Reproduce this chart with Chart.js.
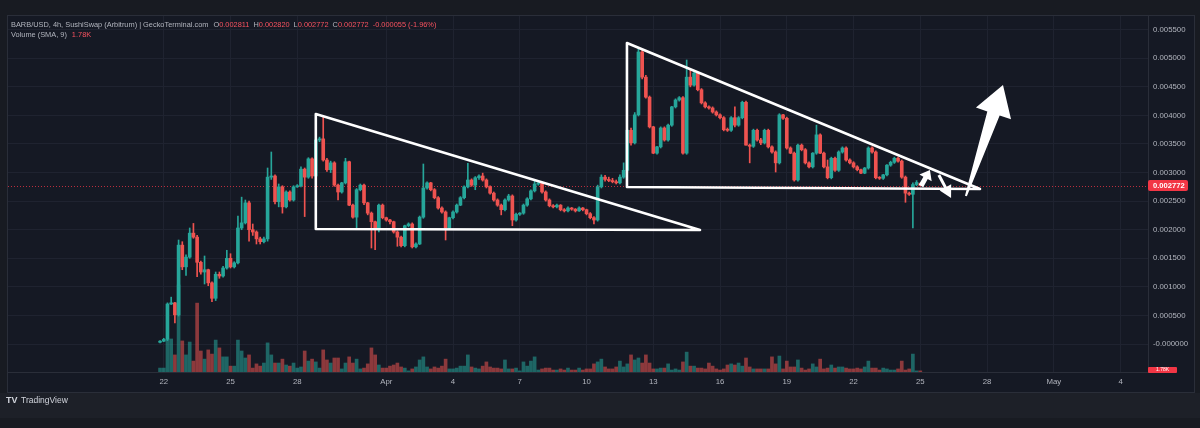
<!DOCTYPE html>
<html>
<head>
<meta charset="utf-8">
<script src="https://cdn.jsdelivr.net/npm/chart.js@4.4.1/dist/chart.umd.min.js"></script>
<style>
html,body{margin:0;padding:0;background:#181b22;}
canvas{display:block;}
</style>
</head>
<body>
<canvas id="c" width="1200" height="428"></canvas>
<script>
// BARB/USD 4h candles, oldest first (Mar 21 20:00 -> Apr 25 00:00)
const opens = [
0.00003,0.00005,0.00008,0.0007,0.00072,0.00051,0.00173,0.00135,0.00152,0.00194,
0.00187,0.00143,0.00126,0.0013,0.00107,0.0008,0.00122,0.00119,0.00133,0.0015,
0.00135,0.00142,0.00203,0.00212,0.00247,0.002,0.00196,0.00184,0.00179,0.00184,
0.00292,0.00294,0.00249,0.00275,0.0024,0.00266,0.00252,0.00275,0.00277,0.00306,
0.00292,0.00324,0.00294,0.00357,0.00359,0.00322,0.00305,0.00317,0.00278,0.00266,
0.00282,0.00319,0.00243,0.00222,0.0027,0.00278,0.00247,0.00229,0.00214,0.002,
0.00243,0.00221,0.00217,0.00214,0.00196,0.00187,0.00172,0.00207,0.0021,0.0017,
0.00175,0.00222,0.00273,0.00282,0.0027,0.00256,0.00238,0.00231,0.00203,0.00221,
0.00231,0.00243,0.00256,0.00275,0.00287,0.00278,0.00291,0.00294,0.00287,0.00275,
0.00264,0.00252,0.00243,0.00235,0.00252,0.00259,0.00217,0.00227,0.00229,0.00243,
0.00254,0.00268,0.0028,0.00282,0.00266,0.00252,0.00242,0.0024,0.00243,0.00235,
0.00233,0.00238,0.00236,0.00233,0.00238,0.00235,0.00228,0.00221,0.00217,0.00275,
0.00292,0.00288,0.00286,0.00284,0.00282,0.00292,0.00304,0.00374,0.00352,0.00401,
0.00511,0.00467,0.00432,0.0038,0.00334,0.00345,0.00378,0.00357,0.00383,0.00415,
0.00427,0.00431,0.00334,0.00467,0.00453,0.00474,0.00445,0.00422,0.00415,0.00413,
0.00406,0.00401,0.00396,0.00375,0.00374,0.00396,0.00383,0.00396,0.00423,0.00348,
0.00346,0.00374,0.00357,0.00352,0.00374,0.00345,0.00336,0.00317,0.00401,0.00395,
0.00343,0.00334,0.00287,0.00348,0.0034,0.00317,0.0031,0.00334,0.00366,0.00334,
0.0031,0.00291,0.00325,0.00304,0.00336,0.00343,0.00322,0.00317,0.0031,0.00305,
0.00299,0.00308,0.00343,0.00336,0.00291,0.0029,0.00296,0.00313,0.00318,0.00325,
0.0032,0.00292,0.00264,0.00262,0.00279,0.002811];
const highs = [
0.00006,0.0001,0.00072,0.00082,0.00073,0.00182,0.00179,0.00156,0.00203,0.00211,
0.0019,0.00145,0.00154,0.00131,0.00109,0.00126,0.00126,0.00136,0.00164,0.00158,
0.00144,0.00224,0.00257,0.00252,0.0025,0.0021,0.00198,0.00187,0.00187,0.00308,
0.00336,0.00296,0.0028,0.00277,0.00268,0.00268,0.00277,0.00279,0.0031,0.00308,
0.00326,0.00326,0.0036,0.00362,0.00398,0.00325,0.0032,0.00319,0.0028,0.00283,
0.00325,0.0032,0.00245,0.00272,0.0028,0.0028,0.00248,0.00231,0.00215,0.00245,
0.00245,0.00222,0.00218,0.00215,0.00198,0.00189,0.00208,0.00212,0.00212,0.00177,
0.00224,0.00315,0.00284,0.00283,0.00272,0.00258,0.0024,0.00233,0.00222,0.00233,
0.00245,0.00258,0.00277,0.00316,0.00289,0.00293,0.00296,0.00299,0.00289,0.00277,
0.00266,0.00254,0.00245,0.00254,0.00262,0.00261,0.00229,0.0023,0.00245,0.00256,
0.0027,0.00287,0.00285,0.00283,0.00268,0.00254,0.00244,0.00245,0.00244,0.00237,
0.0024,0.00239,0.00237,0.0024,0.00239,0.00236,0.0023,0.00223,0.00278,0.00296,
0.00295,0.00292,0.0029,0.00287,0.00296,0.00317,0.00376,0.00378,0.00405,0.00518,
0.00515,0.0047,0.00434,0.00381,0.00346,0.0038,0.0038,0.00385,0.00416,0.00429,
0.00433,0.00433,0.00497,0.0048,0.00476,0.00476,0.00447,0.00424,0.00417,0.00415,
0.00408,0.00403,0.00398,0.00378,0.00398,0.00415,0.00398,0.00425,0.00425,0.0035,
0.00376,0.00376,0.0036,0.00376,0.00376,0.00347,0.00338,0.00403,0.00402,0.00397,
0.00345,0.00336,0.0035,0.0035,0.00342,0.00319,0.00335,0.00383,0.00368,0.00336,
0.00322,0.00327,0.00327,0.00338,0.00345,0.00345,0.00324,0.00319,0.00312,0.00306,
0.00309,0.00345,0.00345,0.00338,0.00293,0.00297,0.00314,0.0032,0.00327,0.00327,
0.00322,0.00294,0.00266,0.00282,0.00286,0.00282];
const lows = [
0.00002,0.00004,0.00006,0.00069,0.00037,0.00049,0.0013,0.0012,0.0015,0.00185,
0.00118,0.00122,0.00105,0.00102,0.00074,0.00076,0.00115,0.00117,0.00131,0.00133,
0.00133,0.0014,0.002,0.0021,0.0018,0.0019,0.00175,0.00175,0.00177,0.0018,
0.00288,0.00245,0.0024,0.00229,0.00238,0.0025,0.0025,0.00274,0.00275,0.00223,
0.0029,0.0029,0.00285,0.00354,0.0032,0.00302,0.003,0.00276,0.00252,0.00264,
0.0028,0.00242,0.0022,0.00203,0.00268,0.00244,0.00226,0.00168,0.00165,0.00196,
0.00219,0.00215,0.0021,0.00194,0.00171,0.0017,0.0017,0.00205,0.00168,0.00168,
0.00174,0.0022,0.00271,0.00268,0.00254,0.00236,0.00229,0.00182,0.00201,0.00219,
0.00229,0.00242,0.00254,0.00273,0.00276,0.0027,0.00288,0.00285,0.00273,0.00262,
0.0025,0.00241,0.00226,0.00233,0.0025,0.00207,0.00215,0.00225,0.00227,0.00241,
0.00252,0.00266,0.00278,0.00264,0.0025,0.0024,0.00238,0.00238,0.00233,0.00231,
0.00231,0.00234,0.00231,0.00232,0.00233,0.00226,0.00219,0.0021,0.00215,0.00273,
0.00285,0.00284,0.00282,0.0028,0.0028,0.0029,0.00302,0.00348,0.0035,0.00399,
0.00464,0.0043,0.00378,0.00333,0.00332,0.00343,0.00355,0.00355,0.00381,0.00413,
0.00425,0.00332,0.00332,0.0045,0.00451,0.00443,0.0042,0.00413,0.00411,0.00404,
0.00399,0.00394,0.00373,0.00372,0.00372,0.0038,0.00381,0.00394,0.00348,0.00317,
0.00344,0.00355,0.00349,0.0035,0.00343,0.00334,0.00301,0.00315,0.00393,0.00341,
0.00333,0.00285,0.00285,0.00338,0.00315,0.00308,0.00308,0.00332,0.00333,0.00308,
0.00289,0.00289,0.00302,0.00302,0.00334,0.0032,0.00315,0.00308,0.00303,0.00298,
0.00298,0.00306,0.00334,0.00289,0.00288,0.00288,0.00294,0.00311,0.00316,0.00318,
0.0029,0.00248,0.0026,0.00203,0.00277,0.002772];
const closes = [
0.00005,0.00008,0.0007,0.00072,0.00051,0.00173,0.00135,0.00152,0.00194,0.00187,
0.00143,0.00126,0.0013,0.00107,0.0008,0.00122,0.00119,0.00133,0.0015,0.00135,
0.00142,0.00203,0.00212,0.00247,0.002,0.00196,0.00184,0.00179,0.00184,0.00292,
0.00294,0.00249,0.00275,0.0024,0.00266,0.00252,0.00275,0.00277,0.00306,0.00292,
0.00324,0.00294,0.00357,0.00359,0.00322,0.00305,0.00317,0.00278,0.00266,0.00282,
0.00319,0.00243,0.00222,0.0027,0.00278,0.00247,0.00229,0.00214,0.002,0.00243,
0.00221,0.00217,0.00214,0.00196,0.00187,0.00172,0.00207,0.0021,0.0017,0.00175,
0.00222,0.00273,0.00282,0.0027,0.00256,0.00238,0.00231,0.00203,0.00221,0.00231,
0.00243,0.00256,0.00275,0.00287,0.00278,0.00291,0.00294,0.00287,0.00275,0.00264,
0.00252,0.00243,0.00235,0.00252,0.00259,0.00217,0.00227,0.00229,0.00243,0.00254,
0.00268,0.0028,0.00282,0.00266,0.00252,0.00242,0.0024,0.00243,0.00235,0.00233,
0.00238,0.00236,0.00233,0.00238,0.00235,0.00228,0.00221,0.00217,0.00275,0.00292,
0.00288,0.00286,0.00284,0.00282,0.00292,0.00304,0.00374,0.00352,0.00401,0.00511,
0.00467,0.00432,0.0038,0.00334,0.00345,0.00378,0.00357,0.00383,0.00415,0.00427,
0.00431,0.00334,0.00467,0.00453,0.00474,0.00445,0.00422,0.00415,0.00413,0.00406,
0.00401,0.00396,0.00375,0.00374,0.00396,0.00383,0.00396,0.00423,0.00348,0.00346,
0.00374,0.00357,0.00352,0.00374,0.00345,0.00336,0.00317,0.00401,0.00395,0.00343,
0.00334,0.00287,0.00348,0.0034,0.00317,0.0031,0.00334,0.00366,0.00334,0.0031,
0.00291,0.00325,0.00304,0.00336,0.00343,0.00322,0.00317,0.0031,0.00305,0.00299,
0.00308,0.00343,0.00336,0.00291,0.0029,0.00296,0.00313,0.00318,0.00325,0.0032,
0.00292,0.00264,0.00262,0.00279,0.002827,0.002772];
// volume, thousands
const volumes = [
1.4,1.4,11.4,11.8,6.1,31.1,11.1,6.1,10.7,3.9,
24.6,7.5,4.6,7.9,6.4,11.4,8.6,5.4,5.4,2.1,
2.1,11.4,7.5,5.0,6.1,1.4,2.9,2.1,3.2,10.4,
6.1,3.2,3.2,4.6,2.5,2.1,3.2,1.4,1.8,7.5,
3.9,4.6,3.6,1.4,7.9,4.3,3.2,5.0,5.0,1.1,
3.2,5.4,3.2,4.6,1.1,1.4,2.9,8.6,6.1,2.5,
1.4,1.4,2.1,2.5,3.2,1.8,1.4,0.4,1.1,1.8,
4.3,5.4,1.8,1.1,1.8,1.4,2.1,4.6,1.1,1.1,
1.4,2.1,2.1,6.1,1.8,1.4,1.1,2.1,3.6,1.8,
1.4,1.4,1.1,4.3,1.1,1.1,1.4,0.4,3.6,2.1,
3.9,5.4,0.7,1.1,1.4,1.4,0.7,0.7,1.1,0.7,
1.4,0.7,0.7,1.4,0.7,1.1,1.1,2.9,3.6,4.6,
1.8,1.1,1.1,1.8,3.9,1.8,2.9,6.1,4.3,5.0,
3.2,6.1,3.2,1.1,1.1,1.4,1.4,2.9,0.7,1.1,
0.7,3.6,7.1,2.1,2.1,1.4,1.4,1.1,3.2,2.1,
1.1,0.7,1.1,2.5,2.9,2.5,3.2,2.1,5.0,1.8,
1.1,1.1,1.1,1.1,1.1,5.4,2.9,5.7,1.1,3.9,
1.8,1.8,4.3,1.4,0.7,1.1,2.9,1.8,4.6,1.1,
1.4,2.5,1.4,1.8,1.8,1.4,1.1,1.1,1.4,1.1,
1.8,3.9,1.4,1.4,0.7,1.4,1.1,0.7,0.7,1.1,
3.9,0.7,1.1,6.4,0.4,0.4];

// candle index of each date label (6 candles per day)
const dateTickIndex = [1, 19, 37, 61, 79, 97, 115, 133, 151, 169, 187, 205, 223, 241, 259];
const dateTickLabels = ['22', '25', '28', 'Apr', '4', '7', '10', '13', '16', '19', '22', '25', '28', 'May', '4'];
const priceTicks = [0, 0.0005, 0.001, 0.0015, 0.002, 0.0025, 0.003, 0.0035, 0.004, 0.0045, 0.005, 0.0055];
const priceTickLabels = ['-0.000000', '0.000500', '0.001000', '0.001500', '0.002000', '0.002500',
    '0.003000', '0.003500', '0.004000', '0.004500', '0.005000', '0.005500'];
const lastPrice = 0.002772;

// drawn patterns, as [candle index, price]
const triangleA = [[42.0, 0.004025], [42.0, 0.0020125], [145.6, 0.001995]];
const triangleB = [[125.9, 0.0052675], [125.9, 0.0027475], [221.1, 0.0027125]];
const arrows = [
    { from: [205.2, 0.002765], to: [207.6, 0.003045], head: 9, headW: 14, tail: 5, neck: 5 },
    { from: [210.0, 0.0029575], to: [213.3, 0.002555], head: 12, headW: 13, tail: 3, neck: 3 },
    { from: [217.3, 0.00259], to: [227.3, 0.0045325], head: 30, headW: 37, tail: 2, neck: 13 }
];

const UP = '#26a69a', DOWN = '#ef5350';
const GREY = '#b2b5be', RED = '#f7525f';
const FONT = '"Liberation Sans", Arial, sans-serif';

const idx = opens.map((_, i) => i);
const up = idx.map(i => closes[i] >= opens[i]);
const candleColors = up.map(u => (u ? UP : DOWN));
const volColors = up.map(u => (u ? 'rgba(38,166,154,0.55)' : 'rgba(239,83,80,0.55)'));

function toPx(chart, p) {
    return [chart.scales.x.getPixelForValue(p[0]), chart.scales.y.getPixelForValue(p[1])];
}

const tvPlugin = {
    id: 'tv',
    beforeDraw(chart) {
        const ctx = chart.ctx;
        ctx.save();
        ctx.fillStyle = '#181b22';
        ctx.fillRect(0, 0, chart.width, chart.height);
        ctx.fillStyle = '#1d2028';
        ctx.fillRect(0, 393, chart.width, 25);
        ctx.fillStyle = '#151924';
        ctx.fillRect(7, 15, 1188, 378);
        ctx.restore();
    },
    beforeDatasetsDraw(chart) {
        const ctx = chart.ctx, a = chart.chartArea;
        const y = Math.round(chart.scales.y.getPixelForValue(lastPrice)) + 0.5;
        ctx.save();
        ctx.strokeStyle = 'rgba(242,54,69,0.75)';
        ctx.lineWidth = 1;
        ctx.setLineDash([1, 2]);
        ctx.beginPath();
        ctx.moveTo(a.left, y);
        ctx.lineTo(a.right, y);
        ctx.stroke();
        ctx.restore();
    },
    afterDatasetsDraw(chart) {
        const ctx = chart.ctx;
        ctx.save();
        ctx.strokeStyle = '#ffffff';
        ctx.fillStyle = '#ffffff';
        ctx.lineWidth = 2.6;
        ctx.lineJoin = 'round';
        ctx.lineCap = 'round';
        [triangleA, triangleB].forEach(tri => {
            ctx.beginPath();
            tri.forEach((p, k) => {
                const q = toPx(chart, p);
                if (k === 0) ctx.moveTo(q[0], q[1]); else ctx.lineTo(q[0], q[1]);
            });
            ctx.closePath();
            ctx.stroke();
        });
        arrows.forEach(ar => {
            const t = toPx(chart, ar.from), p = toPx(chart, ar.to);
            const len = Math.hypot(p[0] - t[0], p[1] - t[1]);
            const dx = (p[0] - t[0]) / len, dy = (p[1] - t[1]) / len;
            const nx = -dy, ny = dx;
            const bx = p[0] - dx * ar.head, by = p[1] - dy * ar.head;
            ctx.beginPath();
            ctx.moveTo(t[0] + nx * ar.tail / 2, t[1] + ny * ar.tail / 2);
            ctx.lineTo(bx + nx * ar.neck / 2, by + ny * ar.neck / 2);
            ctx.lineTo(bx + nx * ar.headW / 2, by + ny * ar.headW / 2);
            ctx.lineTo(p[0], p[1]);
            ctx.lineTo(bx - nx * ar.headW / 2, by - ny * ar.headW / 2);
            ctx.lineTo(bx - nx * ar.neck / 2, by - ny * ar.neck / 2);
            ctx.lineTo(t[0] - nx * ar.tail / 2, t[1] - ny * ar.tail / 2);
            ctx.closePath();
            ctx.fill();
        });
        ctx.restore();
    },
    afterDraw(chart) {
        const ctx = chart.ctx, a = chart.chartArea;
        ctx.save();
        // legend lines
        ctx.textBaseline = 'middle';
        ctx.font = '7.4px ' + FONT;
        let x = 11;
        const seg = (txt, col, y, gap) => {
            ctx.fillStyle = col;
            ctx.fillText(txt, x, y);
            x += ctx.measureText(txt).width + (gap || 0);
        };
        seg('BARB/USD, 4h, SushiSwap (Arbitrum) | GeckoTerminal.com', GREY, 25, 5);
        seg('O', GREY, 25); seg('0.002811', RED, 25, 4);
        seg('H', GREY, 25); seg('0.002820', RED, 25, 4);
        seg('L', GREY, 25); seg('0.002772', RED, 25, 4);
        seg('C', GREY, 25); seg('0.002772', RED, 25, 4);
        seg('-0.000055 (-1.96%)', RED, 25);
        x = 11;
        seg('Volume (SMA, 9)', GREY, 35, 5);
        seg('1.78K', RED, 35);

        // last price tag
        const py = chart.scales.y.getPixelForValue(lastPrice);
        ctx.fillStyle = '#f23645';
        ctx.beginPath();
        ctx.roundRect(a.right, py - 5.5, 40, 11, 2);
        ctx.fill();
        ctx.fillStyle = '#ffffff';
        ctx.font = 'bold 7.6px ' + FONT;
        ctx.fillText('0.002772', a.right + 5, py + 0.5);
        // volume tag
        ctx.fillStyle = '#f23645';
        ctx.beginPath();
        ctx.roundRect(a.right, a.bottom - 5, 29, 6, 1);
        ctx.fill();
        ctx.fillStyle = '#ffffff';
        ctx.font = '5px ' + FONT;
        ctx.fillText('1.78K', a.right + 8, a.bottom - 2);

        // panel frame
        ctx.strokeStyle = '#2a2e39';
        ctx.lineWidth = 1;
        ctx.strokeRect(7.5, 15.5, 1187, 377);

        // TradingView logo
        ctx.fillStyle = '#d1d4dc';
        ctx.font = 'bold 9px ' + FONT;
        ctx.fillText('TV', 6, 401);
        ctx.font = '8.5px ' + FONT;
        ctx.fillText('TradingView', 21, 401);
        ctx.restore();
    }
};

new Chart(document.getElementById('c'), {
    type: 'bar',
    data: {
        datasets: [
            {
                label: 'bodies',
                data: idx.map(i => ({ x: i, y: [opens[i], closes[i]] })),
                backgroundColor: candleColors,
                barThickness: 3,
                minBarLength: 1,
                grouped: false,
                order: 0
            },
            {
                label: 'wicks',
                data: idx.map(i => ({ x: i, y: [lows[i], highs[i]] })),
                backgroundColor: candleColors,
                barThickness: 1,
                grouped: false,
                order: 1
            },
            {
                label: 'volume',
                data: idx.map(i => ({ x: i, y: volumes[i] })),
                backgroundColor: volColors,
                barThickness: 3,
                grouped: false,
                yAxisID: 'yv',
                order: 2
            }
        ]
    },
    options: {
        responsive: false,
        animation: false,
        devicePixelRatio: 1,
        layout: { padding: { left: 8, right: 6, top: 15, bottom: 36 } },
        plugins: { legend: { display: false }, tooltip: { enabled: false } },
        scales: {
            x: {
                type: 'linear',
                min: -41,
                max: 266.4,
                offset: false,
                afterBuildTicks: s => { s.ticks = dateTickIndex.map(v => ({ value: v })); },
                afterFit: s => { s.height = 20; },
                grid: { color: '#1f2330', offset: false, drawTicks: false },
                border: { color: '#2a2e39' },
                ticks: {
                    autoSkip: false,
                    maxRotation: 0,
                    padding: 5,
                    color: GREY,
                    font: { size: 7.8, family: FONT },
                    callback: (v, i) => dateTickLabels[i]
                }
            },
            y: {
                position: 'right',
                min: -0.00049,
                max: 0.0057575,
                afterBuildTicks: s => { s.ticks = priceTicks.map(v => ({ value: v })); },
                afterFit: s => { s.width = 46; },
                grid: { color: '#1f2330', drawTicks: false },
                border: { color: '#2a2e39' },
                ticks: {
                    padding: 5,
                    color: GREY,
                    font: { size: 7.8, family: FONT },
                    callback: (v, i) => priceTickLabels[i]
                }
            },
            yv: {
                display: false,
                min: 0,
                max: 127.5
            }
        }
    },
    plugins: [tvPlugin]
});
</script>
</body>
</html>
